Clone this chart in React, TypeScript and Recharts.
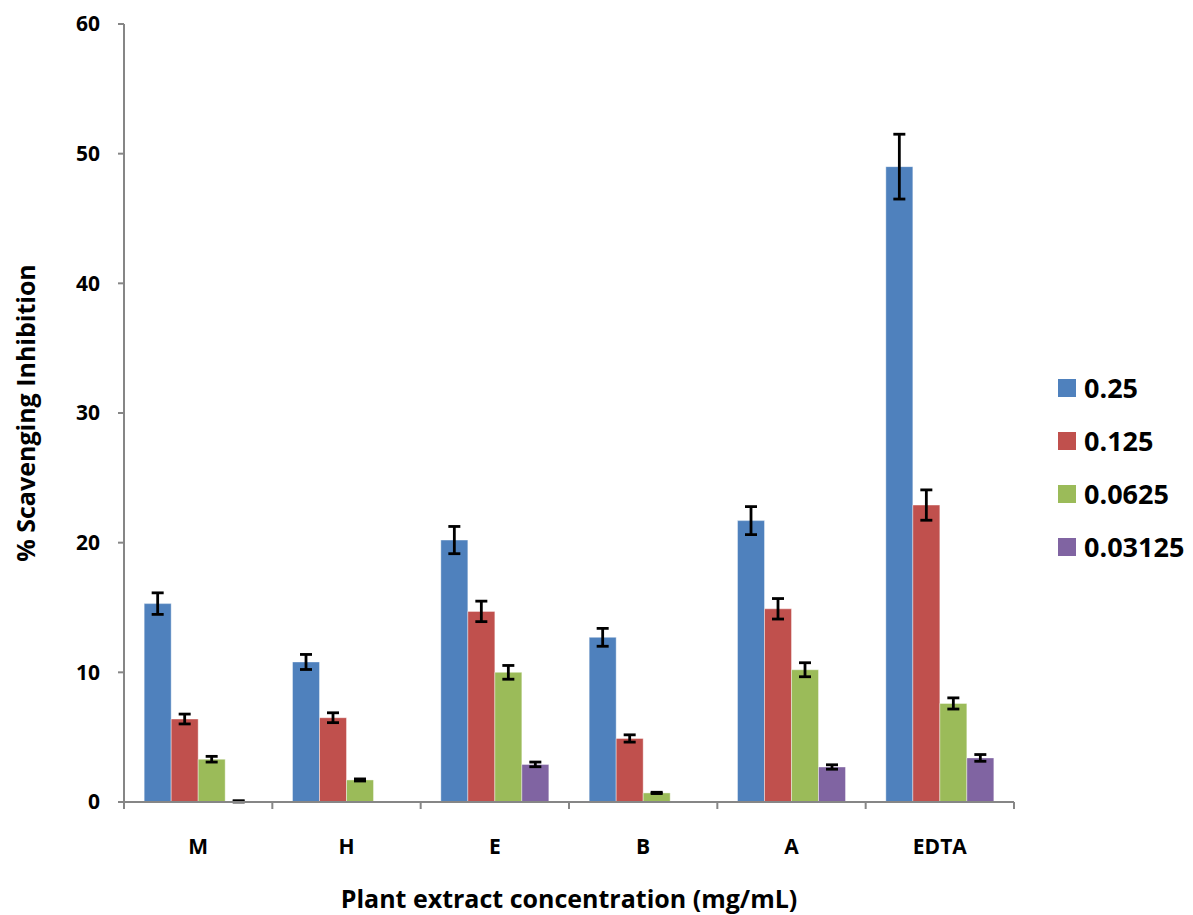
import { BarChart, Bar, XAxis, YAxis, ErrorBar } from "recharts";

// extracts and the standard, in plot order
const categories = ["M", "H", "E", "B", "A", "EDTA"];

// mean % inhibition per concentration (mg/mL)
const conc025 = [15.3, 10.8, 20.2, 12.7, 21.7, 49.0];
const conc0125 = [6.4, 6.5, 14.7, 4.9, 14.9, 22.9];
const conc00625 = [3.3, 1.7, 10.0, 0.7, 10.2, 7.6];
const conc003125 = [0.05, null, 2.9, null, 2.7, 3.4];

// standard deviations
const err025 = [0.83, 0.58, 1.05, 0.69, 1.08, 2.5];
const err0125 = [0.38, 0.38, 0.79, 0.28, 0.79, 1.17];
const err00625 = [0.22, 0.08, 0.53, 0.05, 0.54, 0.43];
const err003125 = [0.05, null, 0.18, null, 0.17, 0.26];

const seriesNames = ["0.25", "0.125", "0.0625", "0.03125"];
const yTicks = [0, 10, 20, 30, 40, 50, 60];

const COLORS = ["#4F81BD", "#C0504D", "#9BBB59", "#8064A2"];
const AXIS = "#868686";
const FONT = "'Open Sans', sans-serif";

const values = [conc025, conc0125, conc00625, conc003125];
const errors = [err025, err0125, err00625, err003125];

const data = categories.map((name, i) => {
  const row: Record<string, any> = { name };
  seriesNames.forEach((s, k) => {
    row["v" + k] = values[k][i];
    row["e" + k] = errors[k][i];
  });
  return row;
});

const WIDTH = 1193;
const HEIGHT = 915;
const MARGIN = { top: 24, right: 179, bottom: 0, left: 0 };
const PLOT_W = WIDTH - MARGIN.left - MARGIN.right - 124;
const BAND = PLOT_W / categories.length;

function CategoryTick({ x, y, payload, index }: any) {
  const left = x - BAND / 2;
  const right = x + BAND / 2;
  return (
    <g>
      <line x1={left} y1={y} x2={left} y2={y + 7} stroke={AXIS} strokeWidth={2} />
      {index === categories.length - 1 && (
        <line x1={right} y1={y} x2={right} y2={y + 7} stroke={AXIS} strokeWidth={2} />
      )}
      <text
        x={x}
        y={y + 44}
        textAnchor="middle"
        dominantBaseline="central"
        fontFamily={FONT}
        fontWeight={700}
        fontSize={21}
        fill="#000"
      >
        {payload.value}
      </text>
    </g>
  );
}

function YTitle({ viewBox }: any) {
  const cy = viewBox.y + viewBox.height / 2;
  return (
    <text
      x={25}
      y={cy}
      transform={`rotate(-90 25 ${cy})`}
      textAnchor="middle"
      dominantBaseline="central"
      fontFamily={FONT}
      fontWeight={700}
      fontSize={25}
      fill="#000"
    >
      % Scavenging Inhibition
    </text>
  );
}

function XTitle({ viewBox }: any) {
  const cx = viewBox.x + viewBox.width / 2;
  return (
    <text
      x={cx}
      y={898}
      textAnchor="middle"
      dominantBaseline="central"
      fontFamily={FONT}
      fontWeight={700}
      fontSize={25}
      fill="#000"
    >
      Plant extract concentration (mg/mL)
    </text>
  );
}

function SeriesLegend() {
  return (
    <div style={{ position: "absolute", left: 1058, top: 361 }}>
      {seriesNames.map((s, k) => (
        <div key={s} style={{ display: "flex", alignItems: "center", height: 53 }}>
          <span
            style={{
              display: "inline-block",
              width: 18,
              height: 18,
              background: COLORS[k],
              marginRight: 8,
            }}
          />
          <span style={{ fontFamily: FONT, fontWeight: 700, fontSize: 27, color: "#000" }}>
            {s}
          </span>
        </div>
      ))}
    </div>
  );
}

export default function App() {
  return (
    <div
      style={{
        position: "absolute",
        left: 0,
        top: 0,
        width: WIDTH,
        height: HEIGHT,
        background: "#fff",
      }}
    >
      <BarChart
        width={WIDTH}
        height={HEIGHT}
        data={data}
        margin={MARGIN}
        barCategoryGap="13.6%"
        barGap={0}
      >
        <XAxis
          dataKey="name"
          height={113}
          axisLine={{ stroke: AXIS, strokeWidth: 2 }}
          tickLine={false}
          tickSize={0}
          tickMargin={0}
          tick={<CategoryTick />}
          interval={0}
          label={<XTitle />}
        />
        <YAxis
          width={124}
          domain={[0, 60]}
          ticks={yTicks}
          interval={0}
          axisLine={{ stroke: AXIS, strokeWidth: 2 }}
          tickLine={{ stroke: AXIS, strokeWidth: 2 }}
          tickSize={6}
          tickMargin={18}
          tick={{ fontFamily: FONT, fontWeight: 700, fontSize: 21, fill: "#000" }}
          label={<YTitle />}
        />
        {seriesNames.map((s, k) => (
          <Bar
            key={s}
            dataKey={"v" + k}
            name={s}
            fill={COLORS[k]}
            stroke="#ffffff"
            strokeOpacity={0.4}
            strokeWidth={1}
            isAnimationActive={false}
          >
            <ErrorBar
              dataKey={"e" + k}
              direction="y"
              width={6}
              stroke="#000"
              strokeWidth={2.8}
              isAnimationActive={false}
            />
          </Bar>
        ))}
      </BarChart>
      <SeriesLegend />
    </div>
  );
}
